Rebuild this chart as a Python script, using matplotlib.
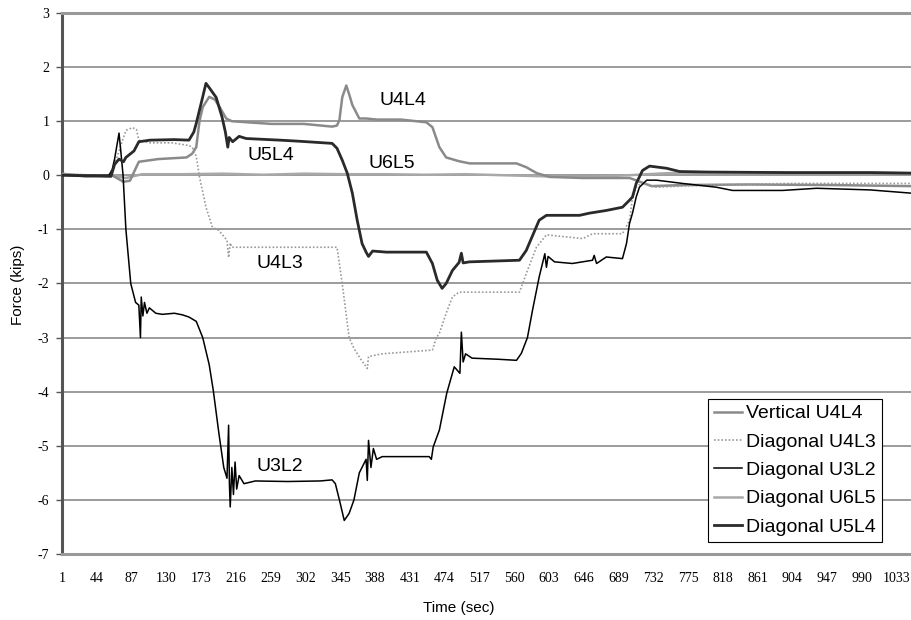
import matplotlib
matplotlib.use("Agg")
import matplotlib.pyplot as plt

# ---------------- data (time in sec, force in kips) ----------------
u4l4_t = [1, 30, 59, 63, 77, 85, 96, 120, 155, 162, 167, 171, 175, 183, 190, 196, 204, 211, 230, 260, 300,
          335, 341, 344, 347.5, 352.5, 356, 360, 368.6, 377, 390, 420, 451.5, 459, 467.6, 476, 492, 505,
          563, 575, 588, 604, 645, 703, 730, 770, 850, 950, 1051]
u4l4_v = [0.03, -0.02, 0.0, 0.0, -0.12, -0.1, 0.25, 0.3, 0.33, 0.4, 0.52, 1.0, 1.26, 1.45, 1.4, 1.26, 1.05, 1.0,
          0.98, 0.95, 0.95, 0.9, 0.92, 1.02, 1.44, 1.66, 1.5, 1.3, 1.05, 1.05, 1.03, 1.03, 0.98, 0.89, 0.52,
          0.33, 0.26, 0.22, 0.22, 0.15, 0.04, -0.03, -0.05, -0.05, -0.2, -0.18, -0.17, -0.18, -0.2]

u4l3_t = [1, 59, 66, 80, 88, 93, 96, 110, 137, 158, 162, 167, 171, 179, 187, 195, 205, 207, 209, 211, 260,
          300, 341, 347.5, 356, 362, 368.6, 378.5, 380, 397, 459, 464, 467.6, 476, 483.7, 492, 566.6, 575,
          587.6, 600, 645, 657, 694, 702.7, 706, 711, 719, 736, 800, 900, 1000, 1051]
u4l3_v = [0.02, 0.0, 0.2, 0.83, 0.88, 0.85, 0.65, 0.6, 0.6, 0.55, 0.52, 0.35, -0.03, -0.59, -0.96, -1.02, -1.2,
          -1.52, -1.25, -1.33, -1.33, -1.33, -1.33, -2.0, -3.0, -3.2, -3.36, -3.57, -3.35, -3.3, -3.23, -3.0,
          -2.92, -2.55, -2.25, -2.16, -2.16, -1.82, -1.33, -1.1, -1.17, -1.08, -1.08, -0.83, -0.46, -0.22,
          -0.13, -0.22, -0.18, -0.15, -0.15, -0.15]

u3l2_t = [1, 59, 63, 66, 71.5, 74, 76.5, 80, 86, 92, 96, 98, 99, 101, 103, 106, 109, 117, 125, 140, 150,
          158, 167, 175, 183, 188, 195, 201, 205, 207, 208, 209, 211, 213, 215, 217, 220, 226, 240, 280,
          320, 335, 339, 344, 350, 356, 362, 368.6, 377, 378.5, 380, 383, 386, 390, 397, 420, 455, 457.7,
          460, 467.6, 476.7, 486, 493, 494.8, 497, 500, 508, 540, 563, 569, 576.5, 582.7, 591, 598, 600,
          602, 610, 632, 657, 659, 662, 674, 694, 699, 702.7, 706.4, 711, 715, 724, 736, 768, 810, 830,
          892, 934, 1000, 1051]
u3l2_v = [0.0, 0.0, 0.1, 0.3, 0.78, 0.4, 0.0, -1.0, -2.0, -2.35, -2.4, -3.0, -2.25, -2.6, -2.35, -2.55, -2.45,
          -2.55, -2.57, -2.55, -2.58, -2.62, -2.7, -3.0, -3.5, -3.97, -4.77, -5.4, -5.6, -4.62, -5.7, -6.13,
          -5.4, -5.9, -5.3, -5.8, -5.55, -5.7, -5.65, -5.66, -5.65, -5.63, -5.7, -6.0, -6.38, -6.25, -6.0,
          -5.5, -5.25, -5.64, -4.9, -5.4, -5.05, -5.25, -5.2, -5.2, -5.2, -5.25, -5.02, -4.71, -4.03, -3.54,
          -3.66, -2.9, -3.45, -3.3, -3.38, -3.4, -3.42, -3.29, -3.0, -2.5, -1.88, -1.45, -1.7, -1.5, -1.6,
          -1.63, -1.57, -1.48, -1.63, -1.51, -1.54, -1.26, -0.89, -0.7, -0.4, -0.22, -0.09, -0.09, -0.15,
          -0.22, -0.28, -0.28, -0.24, -0.27, -0.33]

u6l5_t = [1, 30, 60, 80, 100, 150, 200, 250, 300, 350, 400, 450, 500, 550, 600, 650, 700, 750, 800, 850,
          900, 950, 1000, 1051]
u6l5_v = [0.02, 0.0, 0.0, -0.05, 0.02, 0.02, 0.03, 0.01, 0.03, 0.02, 0.02, 0.01, 0.02, 0.0, -0.02, -0.03,
          0.0, 0.04, 0.05, 0.05, 0.05, 0.05, 0.05, 0.04]

u5l4_t = [1, 61.6, 66, 71.5, 77, 80, 90, 96, 110, 140, 158, 164, 167, 175, 179, 183, 191.6, 199, 203, 206,
          207.7, 212, 220, 228.7, 270, 294, 335, 341, 347.5, 353.7, 360, 366, 372, 377, 380, 385, 402,
          451.5, 459, 465, 471, 476, 483.7, 492, 494.8, 497, 504.7, 566.6, 575, 591, 600, 641, 653, 674,
          694, 702.7, 706.4, 711, 718.8, 727.5, 748.5, 764.6, 800, 900, 1000, 1051]
u5l4_v = [0.0, -0.02, 0.2, 0.3, 0.25, 0.33, 0.45, 0.62, 0.65, 0.66, 0.65, 0.8, 0.96, 1.45, 1.7, 1.62, 1.44,
          1.07, 0.8, 0.52, 0.7, 0.62, 0.72, 0.68, 0.65, 0.63, 0.59, 0.5, 0.28, 0.04, -0.33, -0.83, -1.26,
          -1.42, -1.5, -1.4, -1.42, -1.42, -1.63, -1.94, -2.09, -2.0, -1.76, -1.61, -1.44, -1.62, -1.6,
          -1.57, -1.39, -0.83, -0.74, -0.74, -0.7, -0.65, -0.59, -0.46, -0.4, -0.15, 0.09, 0.17, 0.13, 0.07,
          0.06, 0.05, 0.05, 0.04]

series_names = ["Vertical U4L4", "Diagonal U4L3", "Diagonal U3L2", "Diagonal U6L5", "Diagonal U5L4"]
x_tick_labels = list(range(1, 1034, 43))
y_ticks = list(range(-7, 4))

label_texts = ["U4L4", "U5L4", "U6L5", "U4L3", "U3L2"]
label_t = [423, 259, 409, 270, 270]
label_v = [1.38, 0.36, 0.22, -1.63, -5.38]

# ---------------- figure ----------------
fig = plt.figure(figsize=(9.12, 6.2), dpi=100)
ax = fig.add_axes([62 / 912, 1 - 554 / 620, 850 / 912, (554 - 13) / 620])

for yv in y_ticks[1:-1]:
    ax.axhline(yv, color="#808080", lw=1.1, zorder=1)

ax.plot(u6l5_t, u6l5_v, color="#a8a8a8", lw=1.8, zorder=3, label=series_names[3])
ax.plot(u4l4_t, u4l4_v, color="#8a8a8a", lw=1.8, zorder=4, label=series_names[0])
ax.plot(u4l3_t, u4l3_v, color="#9a9a9a", lw=1.2, ls=(0, (1, 1.2)), zorder=5, label=series_names[1])
ax.plot(u3l2_t, u3l2_v, color="#000000", lw=1.1, zorder=6, label=series_names[2])
ax.plot(u5l4_t, u5l4_v, color="#2a2a2a", lw=2.0, zorder=7, label=series_names[4])

ax.set_xlim(1, 1052)
ax.set_ylim(-7, 3)
ax.set_xticks(x_tick_labels)
ax.set_xticklabels([str(v) for v in x_tick_labels], fontfamily="Liberation Serif", fontsize=10)
ax.set_yticks(y_ticks)
ax.set_yticklabels([str(v) for v in y_ticks], fontfamily="Liberation Serif", fontsize=10)
ax.tick_params(axis="x", length=0, pad=13)
ax.tick_params(axis="y", length=4, width=1, pad=5, color="#555555")

ax.spines["right"].set_visible(False)
ax.spines["left"].set_color("#555555")
ax.spines["left"].set_linewidth(2.2)
ax.spines["top"].set_color("#999999")
ax.spines["top"].set_linewidth(2.2)
ax.spines["bottom"].set_color("#999999")
ax.spines["bottom"].set_linewidth(2.2)

for txt, tt, vv in zip(label_texts, label_t, label_v):
    ax.text(tt, vv, txt, fontfamily="Liberation Sans", fontsize=14, ha="center", va="center", zorder=8)

handles, labels = ax.get_legend_handles_labels()
order = [labels.index(n) for n in series_names]
leg = ax.legend([handles[i] for i in order], [labels[i] for i in order],
                loc="upper left", bbox_to_anchor=(708 / 912, 1 - 399 / 620),
                bbox_transform=fig.transFigure, borderaxespad=0,
                prop={"family": "Liberation Sans", "size": 14}, frameon=True, fancybox=False,
                edgecolor="#000000", framealpha=1, handlelength=1.45, handletextpad=0.2,
                labelspacing=0.55, borderpad=0.3)
leg.get_frame().set_linewidth(0.8)
leg.set_zorder(10)

fig.text(459 / 912, 1 - 608 / 620, "Time (sec)", fontfamily="Liberation Sans", fontsize=11,
         ha="center", va="center")
fig.text(18 / 912, 1 - 285 / 620, "Force (kips)", fontfamily="Liberation Sans", fontsize=11,
         ha="center", va="center", rotation=90)

fig.savefig("out.png", dpi=100)
